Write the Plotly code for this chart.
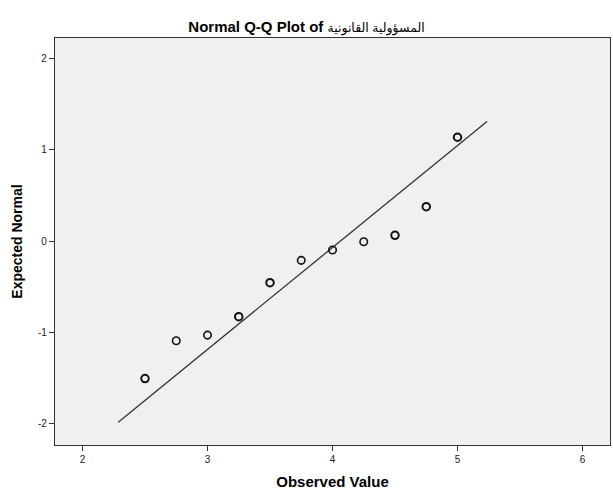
import plotly.graph_objects as go

# Data
observed = [2.50, 2.75, 3.00, 3.25, 3.50, 3.75, 4.00, 4.25, 4.50, 4.75, 5.00]
expected = [-1.51, -1.095, -1.033, -0.831, -0.457, -0.212, -0.099, -0.007, 0.063, 0.378, 1.14]
bold_pts = [1, 0, 0, 1, 1, 0, 0, 0, 1, 1, 1]

line_x = [2.286, 5.236]
line_y = [-1.989, 1.312]

x_ticks = [2, 3, 4, 5, 6]
y_ticks = [-2, -1, 0, 1, 2]

title_latin = "Normal Q-Q Plot of"
title_arabic = "المسؤولية القانونية"

FONT = "Liberation Sans, Arial, DejaVu Sans, sans-serif"

fig = go.Figure()
fig.add_trace(go.Scatter(
    x=line_x, y=line_y, mode="lines",
    line=dict(color="#333333", width=1.3),
    hoverinfo="skip", showlegend=False,
))
fig.add_trace(go.Scatter(
    x=observed, y=expected, mode="markers",
    marker=dict(symbol="circle-open", size=7.5, color="#111111",
                line=dict(color="#111111", width=[2.0 if b else 1.6 for b in bold_pts])),
    showlegend=False,
))

title_html = (f"<b>{title_latin}</b> "
              f"<span style='font-size:12.5px'>{title_arabic}</span>")

fig.update_layout(
    width=613, height=498,
    margin=dict(l=55, r=3, t=38, b=53),
    paper_bgcolor="white",
    plot_bgcolor="#F0F0F0",
    font=dict(family=FONT, color="#000000"),
    title=dict(text=title_html,
               x=0.5, xanchor="center", y=0.947, yanchor="middle",
               font=dict(size=15, family=FONT, color="#000000")),
)
fig.update_xaxes(
    range=[1.78, 6.22], tickvals=x_ticks, ticktext=[str(v) for v in x_ticks],
    showgrid=False, zeroline=False,
    showline=True, linecolor="#333333", linewidth=1.3, mirror=True,
    ticks="outside", ticklen=5, tickwidth=1, tickcolor="#333333",
    tickfont=dict(size=10, color="#222222"),
    title=dict(text="<b>Observed Value</b>", font=dict(size=15), standoff=12),
)
fig.update_yaxes(
    range=[-2.24, 2.23], tickvals=y_ticks, ticktext=[str(v) for v in y_ticks],
    showgrid=False, zeroline=False,
    showline=True, linecolor="#333333", linewidth=1.3, mirror=True,
    ticks="outside", ticklen=5, tickwidth=1, tickcolor="#333333",
    tickfont=dict(size=10, color="#222222"),
    title=dict(text="<b>Expected Normal</b>", font=dict(size=14), standoff=12),
)

fig.write_html("out.html")
